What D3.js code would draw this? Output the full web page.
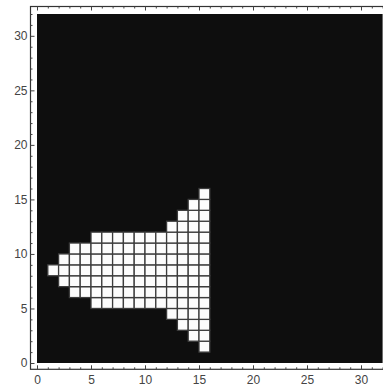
<!DOCTYPE html>
<html>
<head>
<meta charset="utf-8">
<script src="https://cdnjs.cloudflare.com/ajax/libs/d3/7.8.5/d3.min.js"></script>
<style>
body { margin:0; background:#fff; }
.axis text { font-family:"Liberation Sans", Arial, sans-serif; font-size:12px; fill:#444; }
.axis line { stroke:#444; }
.axis path { display:none; }
</style>
</head>
<body>
<script>
// white cells: one column per entry, rows from rowStart to rowEnd
var cellCols = [1, 2, 3, 4, 5, 6, 7, 8, 9, 10, 11, 12, 13, 14, 15];
var rowStart = [8, 7, 6, 6, 5, 5, 5, 5, 5, 5, 5, 4, 3, 2, 1];
var rowEnd   = [8, 9, 10, 10, 11, 11, 11, 11, 11, 11, 11, 12, 13, 14, 15];

var gridSize = 32;
var majorTicks = [0, 5, 10, 15, 20, 25, 30];
var minorTicks = d3.range(0, 33).filter(function(d) { return d % 5 != 0; });

var cells = [];
cellCols.forEach(function(c, i) {
  for (var r = rowStart[i]; r <= rowEnd[i]; r++) cells.push({col:c, row:r});
});

var width = 383, height = 388;
var frame = {left:30.5, top:6.5, right:389, bottom:369.3};

var x = d3.scaleLinear().domain([0, gridSize]).range([37, 382.6]);
var y = d3.scaleLinear().domain([0, gridSize]).range([363, 14]);

var svg = d3.select("body").append("svg").attr("width", width).attr("height", height);

// black array background
svg.append("rect")
  .attr("x", x(0))
  .attr("y", y(gridSize))
  .attr("width", x(gridSize) - x(0))
  .attr("height", y(0) - y(gridSize))
  .style("fill", "#0e0e0e");

svg.selectAll("rect.cell")
  .data(cells)
  .enter().append("rect")
  .attr("class", "cell")
  .attr("x", function(d) { return x(d.col); })
  .attr("y", function(d) { return y(d.row + 1); })
  .attr("width", x(1) - x(0))
  .attr("height", y(0) - y(1))
  .style("fill", "#fcfcfc")
  .style("stroke", "#3c3c3c")
  .style("stroke-width", 1.3);

// frame
svg.append("rect")
  .attr("x", frame.left)
  .attr("y", frame.top)
  .attr("width", frame.right - frame.left)
  .attr("height", frame.bottom - frame.top)
  .style("fill", "none")
  .style("stroke", "#333")
  .style("stroke-width", 1.2);

// bottom axis
svg.append("g")
  .attr("class", "axis")
  .attr("transform", "translate(0," + frame.bottom + ")")
  .call(d3.axisBottom(x).tickValues(majorTicks).tickSize(-4).tickPadding(6));
svg.append("g")
  .attr("class", "axis")
  .attr("transform", "translate(0," + frame.bottom + ")")
  .call(d3.axisBottom(x).tickValues(minorTicks).tickSize(-2).tickFormat(""));

// top axis
svg.append("g")
  .attr("class", "axis")
  .attr("transform", "translate(0," + frame.top + ")")
  .call(d3.axisTop(x).tickValues(majorTicks).tickSize(-4).tickFormat(""));
svg.append("g")
  .attr("class", "axis")
  .attr("transform", "translate(0," + frame.top + ")")
  .call(d3.axisTop(x).tickValues(minorTicks).tickSize(-2).tickFormat(""));

// left axis
svg.append("g")
  .attr("class", "axis")
  .attr("transform", "translate(" + frame.left + ",0)")
  .call(d3.axisLeft(y).tickValues(majorTicks).tickSize(-4).tickPadding(3));
svg.append("g")
  .attr("class", "axis")
  .attr("transform", "translate(" + frame.left + ",0)")
  .call(d3.axisLeft(y).tickValues(minorTicks).tickSize(-2).tickFormat(""));
</script>
</body>
</html>
